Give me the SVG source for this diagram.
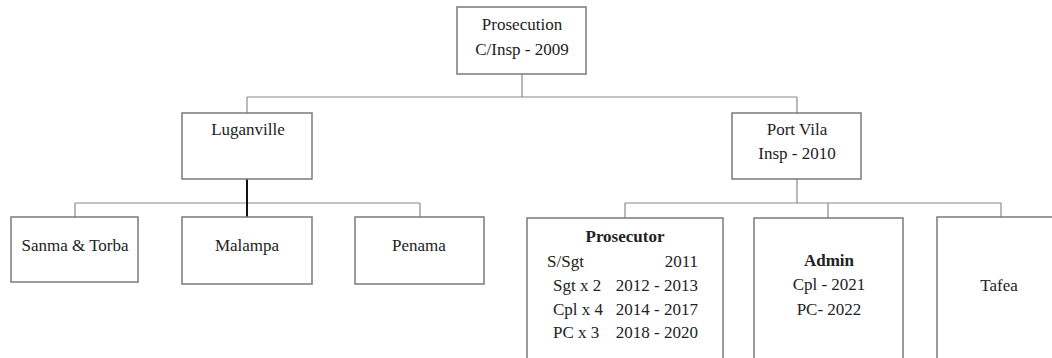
<svg xmlns="http://www.w3.org/2000/svg" width="1052" height="358" viewBox="0 0 1052 358" font-family="'Liberation Serif', 'Times New Roman', Times, serif">
  <style>
    .box { fill: #ffffff; stroke: #7a7a7a; stroke-width: 1.5; }
    .link { fill: none; stroke: #8a8a8a; stroke-width: 1.2; }
    .link-strong { fill: none; stroke: #111111; stroke-width: 2; }
    text { font-family: 'Liberation Serif', 'Times New Roman', Times, serif; font-size: 17px; fill: #222222; }
    .c { text-anchor: middle; }
    .r { text-anchor: end; }
    .b { font-weight: bold; }
  </style>
  <rect width="1052" height="358" fill="#ffffff"/>

  <!-- connectors -->
  <g id="connectors">
    <path class="link" d="M522 74 V97 M247 97 H797 M247 97 V113 M797 97 V113"/>
    <path class="link" d="M75 203 H420 M75 203 V217 M420 203 V217"/>
    <path class="link-strong" d="M247 179 V217"/>
    <path class="link" d="M797 179 V203 M625 203 H1001 M625 203 V218 M828 203 V218 M1001 203 V217"/>
  </g>

  <g id="prosecution">
    <rect class="box" x="457" y="7" width="129" height="67"/>
    <text class="c" x="522" y="30">Prosecution</text>
    <text class="c" x="522" y="55">C/Insp - 2009</text>
  </g>

  <g id="luganville">
    <rect class="box" x="182" y="113" width="130" height="66"/>
    <text class="c" x="248" y="135">Luganville</text>
  </g>

  <g id="port-vila">
    <rect class="box" x="732" y="113" width="129" height="66"/>
    <text class="c" x="797" y="135">Port Vila</text>
    <text class="c" x="797" y="159">Insp - 2010</text>
  </g>

  <g id="sanma-torba">
    <rect class="box" x="11" y="217" width="127" height="65"/>
    <text class="c" x="75" y="251">Sanma &amp; Torba</text>
  </g>

  <g id="malampa">
    <rect class="box" x="182" y="217" width="130" height="67"/>
    <text class="c" x="247" y="251">Malampa</text>
  </g>

  <g id="penama">
    <rect class="box" x="355" y="217" width="129" height="67"/>
    <text class="c" x="419" y="251">Penama</text>
  </g>

  <g id="prosecutor">
    <rect class="box" x="527" y="218" width="196" height="150"/>
    <text class="c b" x="625" y="242">Prosecutor</text>
    <text x="547" y="267">S/Sgt</text>
    <text class="r" x="698" y="267">2011</text>
    <text x="553" y="291">Sgt x 2</text>
    <text class="r" x="698" y="291">2012 - 2013</text>
    <text x="553" y="315">Cpl x 4</text>
    <text class="r" x="698" y="315">2014 - 2017</text>
    <text x="553" y="338">PC x 3</text>
    <text class="r" x="698" y="338">2018 - 2020</text>
  </g>

  <g id="admin">
    <rect class="box" x="754" y="218" width="149" height="150"/>
    <text class="c b" x="829" y="266">Admin</text>
    <text class="c" x="829" y="290">Cpl - 2021</text>
    <text class="c" x="829" y="315">PC- 2022</text>
  </g>

  <g id="tafea">
    <rect class="box" x="937" y="217" width="130" height="151"/>
    <text class="c" x="999" y="291">Tafea</text>
  </g>
</svg>
